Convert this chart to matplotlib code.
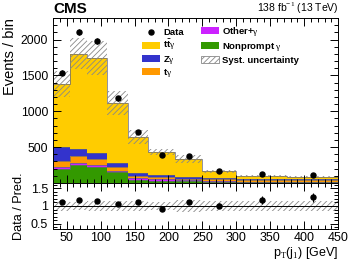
import numpy as np
import matplotlib
matplotlib.use('Agg')
import matplotlib.pyplot as plt
from matplotlib.ticker import MultipleLocator
from matplotlib.patches import Patch
from matplotlib.lines import Line2D

plt.rcParams['font.family'] = ['Liberation Sans', 'DejaVu Sans']
plt.rcParams['mathtext.fontset'] = 'custom'
plt.rcParams['mathtext.rm'] = 'Liberation Serif'
plt.rcParams['mathtext.bf'] = 'Liberation Sans:bold'
plt.rcParams['mathtext.it'] = 'Liberation Sans:italic'
plt.rcParams['hatch.linewidth'] = 0.6

# bin edges in pT(j1) [GeV]
edges = [30, 55, 80, 110, 140, 170, 210, 250, 300, 375, 450]

# stacked predictions (bottom -> top)
nonprompt = [194, 250, 222, 152, 45, 28, 21, 15, 10, 9]
other     = [28, 27, 28, 14, 24, 27, 14, 10, 6, 5]
tgamma    = [83, 97, 82, 56, 28, 28, 20, 25, 25, 27]
zgamma    = [195, 96, 83, 55, 41, 27, 28, 23, 20, 19]
ttgamma   = [880, 1330, 1330, 843, 499, 319, 249, 92, 42, 30]
syst_rel  = [0.13, 0.12, 0.135, 0.15, 0.15, 0.10, 0.16, 0.13, 0.14, 0.14]

# data
data      = [1540, 2105, 1980, 1180, 705, 388, 374, 166, 120, 111]
data_err  = [39, 46, 44, 34, 27, 20, 19, 13, 11, 11]
ratio     = [1.11, 1.17, 1.13, 1.05, 1.10, 0.91, 1.12, 1.01, 1.17, 1.24]
ratio_err = [0.03, 0.03, 0.03, 0.03, 0.04, 0.05, 0.06, 0.08, 0.11, 0.12]

main_yticks = [500, 1000, 1500, 2000]
ratio_yticks = [0.5, 1, 1.5]
ratio_yticklabels = ['0.5', '1', '1.5']

comps = [
    (nonprompt, '#339900', r'Nonprompt $\mathrm{\gamma}$'),
    (other,     '#cc22ff', r'Other+$\mathrm{\gamma}$'),
    (tgamma,    '#ff9900', r't$\mathrm{\gamma}$'),
    (zgamma,    '#3333cc', r'Z$\mathrm{\gamma}$'),
    (ttgamma,   '#ffcc00', r'$\mathbf{t\bar{t}}\mathrm{\gamma}$'),
]

fig = plt.figure(figsize=(3.49, 2.61), dpi=100)
ax = fig.add_axes([0.152, 0.299, 0.817, 0.632])
axr = fig.add_axes([0.152, 0.1226, 0.817, 0.1764])

edges_a = np.array(edges, dtype=float)
centers = 0.5 * (edges_a[1:] + edges_a[:-1])

base = np.zeros(len(centers))
for vals, color, label in comps:
    top = base + np.array(vals, dtype=float)
    ax.stairs(top, edges_a, baseline=base, fill=True, color=color, lw=0)
    ax.stairs(top, edges_a, baseline=None, color='#666677', lw=0.5)
    base = top
total = base

rel = np.array(syst_rel)
ax.stairs(total * (1 + rel), edges_a, baseline=total * (1 - rel), fill=True,
          facecolor='none', edgecolor='#888888', hatch='//////', lw=0)
ax.errorbar(centers, data, yerr=data_err, fmt='o', color='k', ms=3.6,
            elinewidth=0.8, capsize=0, zorder=5)

ax.set_xlim(30, 450)
ax.set_ylim(0, 2300)
ax.set_yticks(main_yticks)
ax.yaxis.set_minor_locator(MultipleLocator(100))
ax.xaxis.set_major_locator(MultipleLocator(50))
ax.xaxis.set_minor_locator(MultipleLocator(10))
ax.tick_params(which='both', direction='in', top=True, right=True, labelbottom=False,
               labelsize=8.7, width=0.7)
ax.tick_params(which='major', length=5.5)
ax.tick_params(which='minor', length=2.8)
ax.set_ylabel('Events / bin', fontsize=10.5, loc='top', labelpad=3)

# legend, two separate columns
h_data = Line2D([], [], marker='o', ls='none', color='k', ms=3.6)
col1_h = [h_data] + [Patch(facecolor=c, edgecolor='none') for _, c, _ in comps[:1:-1]]
col1_l = ['Data'] + [l for _, _, l in comps[:1:-1]]
col2_h = [Patch(facecolor=c, edgecolor='none') for _, c, _ in comps[1::-1]]
col2_h.append(Patch(facecolor='white', edgecolor='#888888', hatch='//////', lw=0.6))
col2_l = [l for _, _, l in comps[1::-1]] + ['Syst. uncertainty']

leg_kw = dict(loc='upper left', frameon=False, prop={'weight': 'bold', 'size': 6.8},
              handlelength=1.9, handleheight=0.75, handletextpad=0.35,
              borderpad=0.0, borderaxespad=0.0)
leg1 = ax.legend(col1_h, col1_l, bbox_to_anchor=(0.312, 0.937), labelspacing=0.11, **leg_kw)
ax.add_artist(leg1)
ax.legend(col2_h, col2_l, bbox_to_anchor=(0.519, 0.958), labelspacing=0.30, **leg_kw)

fig.text(0.152, 0.94, 'CMS', fontsize=11, fontweight='bold', ha='left', va='bottom')
fig.text(0.969, 0.94, r'138 fb$^{-1}$ (13 TeV)', fontsize=7.5, ha='right', va='bottom')

# ratio panel
axr.stairs(1 + rel, edges_a, baseline=1 - rel, fill=True,
           facecolor='none', edgecolor='#888888', hatch='//////', lw=0)
axr.axhline(1, color='k', lw=0.7)
axr.errorbar(centers, ratio, yerr=ratio_err, fmt='o', color='k', ms=3.6,
             elinewidth=0.8, capsize=0, zorder=5)
axr.set_xlim(30, 450)
axr.set_ylim(0.35, 1.65)
axr.set_yticks(ratio_yticks)
axr.set_yticklabels(ratio_yticklabels)
axr.yaxis.set_minor_locator(MultipleLocator(0.1))
axr.xaxis.set_major_locator(MultipleLocator(50))
axr.xaxis.set_minor_locator(MultipleLocator(10))
axr.tick_params(which='both', direction='in', top=True, right=True, labelsize=9, width=0.7)
axr.tick_params(axis='x', pad=2)
axr.tick_params(which='major', length=5.5)
axr.tick_params(which='minor', length=2.8)
axr.set_ylabel('Data / Pred.', fontsize=9.2, labelpad=4)
fig.text(0.969, 0.0, r'p$_{\mathrm{T}}$(j$_{1}$) [GeV]', fontsize=9,
         ha='right', va='bottom')

for a in (ax, axr):
    for s in a.spines.values():
        s.set_linewidth(0.7)

fig.savefig('out.png', dpi=100)
